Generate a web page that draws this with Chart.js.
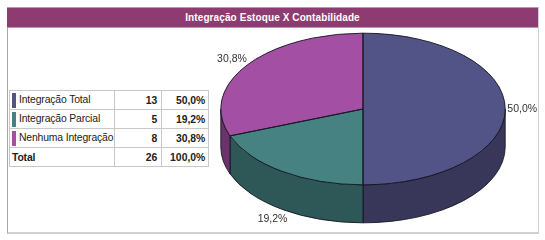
<!DOCTYPE html>
<html>
<head>
<meta charset="utf-8">
<script src="https://cdn.jsdelivr.net/npm/chart.js@4/dist/chart.umd.min.js"></script>
<style>
  body { margin: 0; background: #fff; font-family: 'Liberation Sans', Arial, sans-serif; }
  #frame { position: absolute; left: 7px; top: 7px; width: 530px; height: 225px;
           border-left: 1px solid #a8a8a8; border-right: 1px solid #d0d0d0; border-bottom: 2px solid #d0d0d0; }
  #title { position: absolute; left: 7px; top: 7px; width: 531px; height: 19px;
           background: #8e3b72; border-top: 1px solid #b898b0; border-bottom: 1px solid #b898b0;
           color: #fff; font-weight: bold; font-size: 10px; line-height: 19px; text-align: center; letter-spacing: 0.1px; }
  #tbl { position: absolute; left: 9px; top: 90px; border-collapse: collapse; font-size: 10.4px; color: #222;
         table-layout: fixed; }
  #tbl td { border: 1px solid #c8c8c8; height: 18px; padding: 0 2px; white-space: nowrap; overflow: hidden; }
  #tbl td.lab { width: 98px; padding-left: 2px; padding-right: 1px; letter-spacing: -0.15px; }
  #tbl td.num { width: 40px; text-align: right; font-weight: bold; padding-right: 4px; }
  #tbl td.pct { width: 41px; text-align: right; font-weight: bold; padding-right: 3px; }
  #tbl .sw { display: inline-block; width: 4px; height: 15px; vertical-align: middle; margin-right: 3px; }
  #wrap { position: absolute; left: 188px; top: 30px; width: 350px; height: 200px; }
</style>
</head>
<body>
<div id="frame"></div>
<div id="title">Integração Estoque X Contabilidade</div>
<table id="tbl"></table>
<div id="wrap"><canvas id="chartPizza3d"></canvas></div>
<script>
// ========== Dados ==========
const categorias = ['Integração Total', 'Integração Parcial', 'Nenhuma Integração'];
const quantidades = [13, 5, 8];
const rotulosPct = ['50,0%', '19,2%', '30,8%'];
const totalLabel = 'Total';
const totalQtd = 26;
const totalPct = '100,0%';

// cores (topo / lateral)
const coresTopo = ['#525488', '#468282', '#a34fa3'];
const coresLado = ['#38375a', '#2e5757', '#6b336b'];

// ========== Tabela ==========
const tbl = document.getElementById('tbl');
categorias.forEach((c, i) => {
  const tr = document.createElement('tr');
  tr.innerHTML = '<td class="lab"><span class="sw" style="background:' + coresTopo[i] + '"></span>' + c + '</td>' +
    '<td class="num">' + quantidades[i] + '</td><td class="pct">' + rotulosPct[i] + '</td>';
  tbl.appendChild(tr);
});
const trT = document.createElement('tr');
trT.innerHTML = '<td class="lab" style="font-weight:bold">' + totalLabel + '</td><td class="num">' + totalQtd +
  '</td><td class="pct">' + totalPct + '</td>';
tbl.appendChild(trT);

// ========== Pizza 3D ==========
const sx = 1.8, sy = 0.96, depth = 38;

const pizza3d = {
  id: 'pizza3d',
  beforeDatasetsDraw(chart) {
    const { ctx } = chart;
    const arcs = chart.getDatasetMeta(0).data;
    const cx = arcs[0].x, cy = arcs[0].y;
    const rx = arcs[0].outerRadius * sx, ry = arcs[0].outerRadius * sy;
    // laterais (só a parte da frente)
    arcs.forEach((a, i) => {
      const b0 = Math.max(a.startAngle, 0), b1 = Math.min(a.endAngle, Math.PI);
      if (b1 <= b0) return;
      ctx.save();
      ctx.beginPath();
      ctx.ellipse(cx, cy, rx, ry, 0, b0, b1);
      ctx.lineTo(cx + rx * Math.cos(b1), cy + ry * Math.sin(b1) + depth);
      ctx.ellipse(cx, cy + depth, rx, ry, 0, b1, b0, true);
      ctx.closePath();
      ctx.fillStyle = coresLado[i];
      ctx.fill();
      ctx.strokeStyle = 'rgba(20,20,30,0.85)';
      ctx.lineWidth = 1;
      ctx.stroke();
      ctx.restore();
    });
    ctx.save();
    ctx.translate(cx, cy);
    ctx.scale(sx, sy);
    ctx.translate(-cx, -cy);
  },
  afterDatasetsDraw(chart) {
    const { ctx } = chart;
    ctx.restore();
    const arcs = chart.getDatasetMeta(0).data;
    const cx = arcs[0].x, cy = arcs[0].y;
    const rx = arcs[0].outerRadius * sx, ry = arcs[0].outerRadius * sy;
    ctx.save();
    ctx.strokeStyle = 'rgba(20,20,30,0.9)';
    ctx.lineWidth = 1;
    arcs.forEach(a => {
      ctx.beginPath();
      ctx.moveTo(cx, cy);
      ctx.lineTo(cx + rx * Math.cos(a.startAngle), cy + ry * Math.sin(a.startAngle));
      ctx.ellipse(cx, cy, rx, ry, 0, a.startAngle, a.endAngle);
      ctx.closePath();
      ctx.stroke();
    });
    // rótulos de porcentagem
    ctx.fillStyle = '#333';
    ctx.font = "10.5px 'Liberation Sans', Arial, sans-serif";
    ctx.textAlign = 'center';
    ctx.textBaseline = 'middle';
    arcs.forEach((a, i) => {
      const m = (a.startAngle + a.endAngle) / 2;
      const x = cx + (rx + 17) * Math.cos(m);
      const y = cy + (ry + 12) * Math.sin(m) + (Math.sin(m) > 0.1 ? depth : 0);
      ctx.fillText(rotulosPct[i], x, y);
    });
    ctx.restore();
  }
};

new Chart(document.getElementById('chartPizza3d'), {
  type: 'pie',
  data: {
    labels: categorias,
    datasets: [{
      data: quantidades,
      backgroundColor: coresTopo,
      borderWidth: 0,
      clip: false
    }]
  },
  options: {
    responsive: true,
    maintainAspectRatio: false,
    animation: false,
    layout: { padding: { bottom: 42 } },
    plugins: { legend: { display: false }, tooltip: { enabled: false } }
  },
  plugins: [pizza3d]
});
</script>
</body>
</html>
